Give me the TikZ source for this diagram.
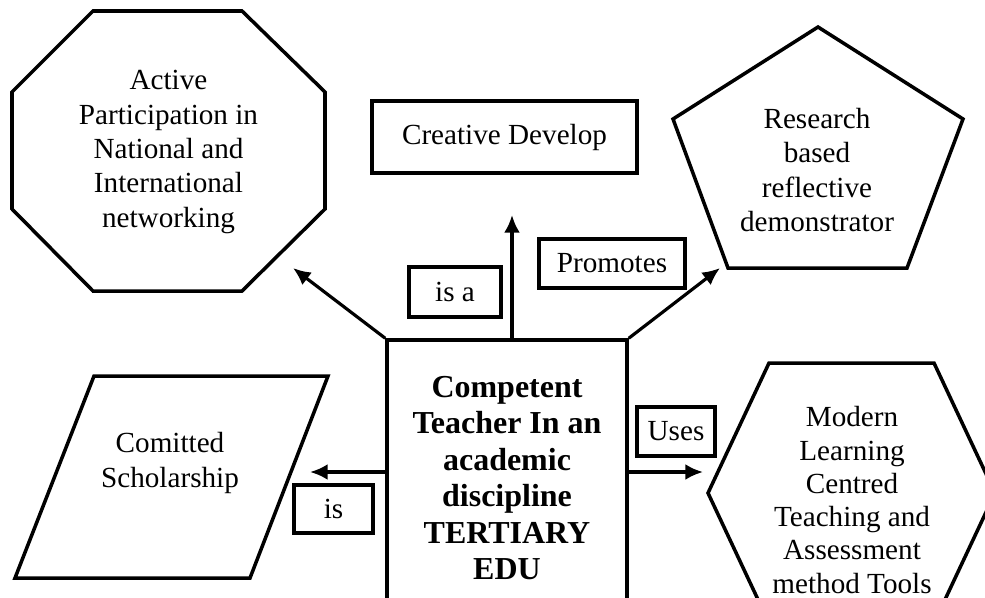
\documentclass[tikz,border=0pt]{standalone}
\usepackage{fontspec}
\setmainfont{Liberation Serif}
\usetikzlibrary{arrows.meta}

\tikzset{
    shapeline/.style={line width=2pt,line join=miter},
    tagbox/.style={draw,line width=1.8pt,inner sep=0pt},
    arr/.style={line width=1.8pt,-{Latex[length=10pt,width=9pt]}},
    plain/.style={align=center,font=\fontsize{16.6}{19.6}\selectfont}
}

\begin{document}
\begin{tikzpicture}

\clip (0,0) rectangle (19.7,-11.94);

% outer shapes
\draw[shapeline] (1.86,-0.22) -- (4.84,-0.22) -- (6.5,-1.84) -- (6.5,-4.18)
    -- (4.84,-5.82) -- (1.86,-5.82) -- (0.24,-4.18) -- (0.24,-1.84) -- cycle;
\draw[shapeline] (16.36,-0.54) -- (19.26,-2.38) -- (18.14,-5.36) -- (14.56,-5.36)
    -- (13.46,-2.38) -- cycle;
\draw[shapeline] (1.88,-7.52) -- (6.56,-7.52) -- (5.0,-11.56) -- (0.3,-11.56) -- cycle;
\draw[shapeline] (15.38,-7.26) -- (18.68,-7.26) -- (19.9,-9.86) -- (18.68,-12.46)
    -- (15.38,-12.46) -- (14.16,-9.86) -- cycle;

\path (3.37,-3.04) node[plain] (act) {Active\\Participation in\\National and\\International\\networking};
\path (16.34,-3.4) node[plain] (res) {Research\\based\\reflective\\demonstrator};
\path (3.4,-9.26) node[plain] (sch) {Comitted\\Scholarship};
\path (17.04,-10.0) node[plain,font=\fontsize{16.6}{18.9}\selectfont] (mod) {Modern\\Learning\\Centred\\Teaching and\\Assessment\\method Tools};

\node[plain,draw,line width=2pt,minimum width=5.3cm,minimum height=1.44cm] (cre) at (10.09,-2.74) {Creative Develop};

% the teacher in the middle
\node[draw,line width=2pt,align=center,minimum width=4.8cm,minimum height=5.52cm,
    font=\fontsize{18.2}{20.8}\selectfont\bfseries] (teach) at (10.14,-9.56)
    {Competent\\Teacher In an\\academic\\discipline\\TERTIARY\\EDU};

% relation labels
\node[plain,tagbox,minimum width=1.84cm,minimum height=1.0cm] (isa) at (9.1,-5.84) {is a};
\node[plain,tagbox,minimum width=2.92cm,minimum height=0.98cm] (prom) at (12.24,-5.27) {Promotes};
\node[plain,tagbox,minimum width=1.58cm,minimum height=0.96cm] (is) at (6.67,-10.18) {is};
\node[plain,tagbox,minimum width=1.56cm,minimum height=0.98cm] (uses) at (13.52,-8.63) {Uses};

\coordinate (toAct) at (5.86,-5.36);
\coordinate (toRes) at (14.4,-5.36);
\coordinate (toCre) at (10.24,-4.3);
\coordinate (toSch) at (6.2,-9.44);
\coordinate (toMod) at (14.06,-9.44);

\draw[arr] (teach.north west) -- (toAct);
\draw[arr] (teach.north east) -- (toRes);
\draw[arr] (teach.north -| toCre) -- (toCre);
\draw[arr] (teach.west |- toSch) -- (toSch);
\draw[arr] (teach.east |- toMod) -- (toMod);

\end{tikzpicture}
\end{document}
